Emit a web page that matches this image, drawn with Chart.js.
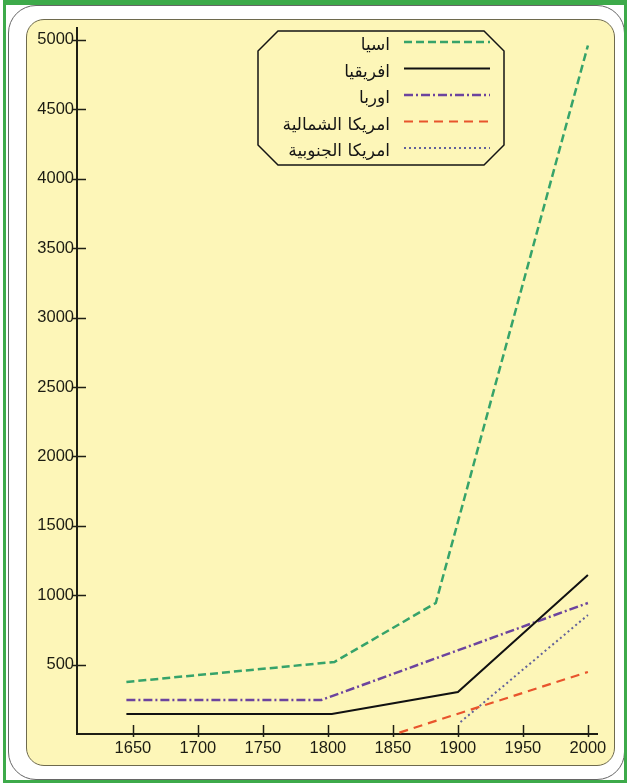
<!DOCTYPE html>
<html>
<head>
<meta charset="utf-8">
<script src="https://cdn.jsdelivr.net/npm/chart.js@4"></script>
<style>
  html, body { margin: 0; padding: 0; width: 628px; height: 783px; background: #ffffff; overflow: hidden; }
  .outer { position: absolute; left: 8px; top: 5px; width: 617px; height: 775px; border: 1.5px solid #666; border-radius: 28px; box-sizing: border-box; }
  .green { position: absolute; left: 3px; top: 0; width: 624px; height: 783px; border: 3px solid #3daa4a; border-top-width: 5px; box-sizing: border-box; }
  .panel { position: absolute; left: 26px; top: 19px; width: 589px; height: 747px; border: 1.5px solid #6e6a4e; border-radius: 18px; background: #fdf6b8; box-sizing: border-box; }
  canvas { position: absolute; left: 0; top: 0; }
</style>
</head>
<body>
<div class="outer"></div>
<div class="green"></div>
<div class="panel"></div>
<canvas id="c" width="628" height="783"></canvas>
<script>
// ---- data ----
const seriesNames = ["اسيا", "افريقيا", "اوربا", "امريكا الشمالية", "امريكا الجنوبية"];
const xTickLabels = [1650, 1700, 1750, 1800, 1850, 1900, 1950, 2000];
const yTickLabels = [500, 1000, 1500, 2000, 2500, 3000, 3500, 4000, 4500, 5000];

const asiaYears   = [1645, 1805, 1883, 2000];
const asiaValues  = [375, 519, 944, 4960];
const africaYears  = [1645, 1803, 1900, 2000];
const africaValues = [144, 144, 303, 1146];
const europeYears  = [1645, 1795, 2000];
const europeValues = [245, 245, 944];
const northAmYears  = [1855, 2000];
const northAmValues = [10, 447];
const southAmYears  = [1902, 2000];
const southAmValues = [86, 857];

function pts(xs, ys) { return xs.map((x, i) => ({ x: x, y: ys[i] })); }

const styles = [
  { color: '#36a36a', dash: [8, 4], width: 2.5 },
  { color: '#111111', dash: [], width: 2 },
  { color: '#6c449e', dash: [9, 3, 2, 3], width: 2.5 },
  { color: '#e8542c', dash: [9, 6], width: 2.2 },
  { color: '#62629a', dash: [2, 3], width: 2 }
];
const allData = [
  pts(asiaYears, asiaValues),
  pts(africaYears, africaValues),
  pts(europeYears, europeValues),
  pts(northAmYears, northAmValues),
  pts(southAmYears, southAmValues)
];

const datasets = seriesNames.map((name, i) => ({
  label: name,
  data: allData[i],
  borderColor: styles[i].color,
  borderDash: styles[i].dash,
  borderWidth: styles[i].width,
  pointRadius: 0,
  tension: 0,
  fill: false
}));

const axisColor = '#1e1e14';
const tickFont = { family: '"Liberation Sans", Arial, sans-serif', size: 16.5 };

const tickMarks = {
  id: 'tickMarks',
  afterDraw(chart) {
    const ctx = chart.ctx, xs = chart.scales.x, ys = chart.scales.y, a = chart.chartArea;
    ctx.save();
    ctx.strokeStyle = axisColor;
    ctx.lineWidth = 1.5;
    ctx.setLineDash([]);
    yTickLabels.forEach(v => {
      const py = Math.round(ys.getPixelForValue(v)) + 0.5;
      ctx.beginPath(); ctx.moveTo(a.left - 4, py); ctx.lineTo(a.left + 9, py); ctx.stroke();
    });
    xTickLabels.forEach(v => {
      const px = Math.round(xs.getPixelForValue(v)) + 0.5;
      ctx.beginPath(); ctx.moveTo(px, a.bottom + 3); ctx.lineTo(px, a.bottom - 9); ctx.stroke();
    });
    ctx.restore();
  }
};

const octLegend = {
  id: 'octLegend',
  afterDraw(chart) {
    const ctx = chart.ctx;
    const L = 258, T = 31, R = 504, B = 165, c = 20;
    ctx.save();
    ctx.setLineDash([]);
    ctx.strokeStyle = '#141414';
    ctx.lineWidth = 1.5;
    ctx.beginPath();
    ctx.moveTo(L + c, T); ctx.lineTo(R - c, T); ctx.lineTo(R, T + c);
    ctx.lineTo(R, B - c); ctx.lineTo(R - c, B); ctx.lineTo(L + c, B);
    ctx.lineTo(L, B - c); ctx.lineTo(L, T + c); ctx.closePath();
    ctx.stroke();
    chart.data.datasets.forEach((ds, i) => {
      const y = 46 + i * 26.5;
      ctx.font = '17px "DejaVu Sans", sans-serif';
      ctx.fillStyle = '#151515';
      ctx.textAlign = 'right';
      ctx.textBaseline = 'middle';
      ctx.fillText(ds.label, 390, y);
      ctx.strokeStyle = ds.borderColor;
      ctx.lineWidth = ds.borderWidth;
      ctx.setLineDash(ds.borderDash);
      ctx.beginPath(); ctx.moveTo(404, y - 4); ctx.lineTo(490, y - 4); ctx.stroke();
    });
    ctx.restore();
  }
};

new Chart(document.getElementById('c'), {
  type: 'line',
  data: { datasets: datasets },
  plugins: [tickMarks, octLegend],
  options: {
    responsive: false,
    animation: false,
    devicePixelRatio: 1,
    layout: { padding: { left: 27, top: 28, right: 31, bottom: 9 } },
    plugins: { legend: { display: false }, tooltip: { enabled: false } },
    scales: {
      x: {
        type: 'linear',
        min: 1607, max: 2007,
        afterBuildTicks: s => { s.ticks = xTickLabels.map(v => ({ value: v })); },
        afterFit: s => { s.height = 40; },
        ticks: { font: tickFont, color: '#1c1c12', padding: 5, maxRotation: 0, autoSkip: false, callback: v => String(v) },
        grid: { display: false, drawTicks: false },
        border: { display: true, color: axisColor, width: 2 }
      },
      y: {
        type: 'linear',
        min: 0, max: 5086,
        afterBuildTicks: s => { s.ticks = yTickLabels.map(v => ({ value: v })); },
        afterFit: s => { s.width = 50; },
        ticks: { font: tickFont, color: '#1c1c12', padding: 3, autoSkip: false, callback: v => String(v) },
        grid: { display: false, drawTicks: false },
        border: { display: true, color: axisColor, width: 2 }
      }
    }
  }
});
</script>
</body>
</html>
